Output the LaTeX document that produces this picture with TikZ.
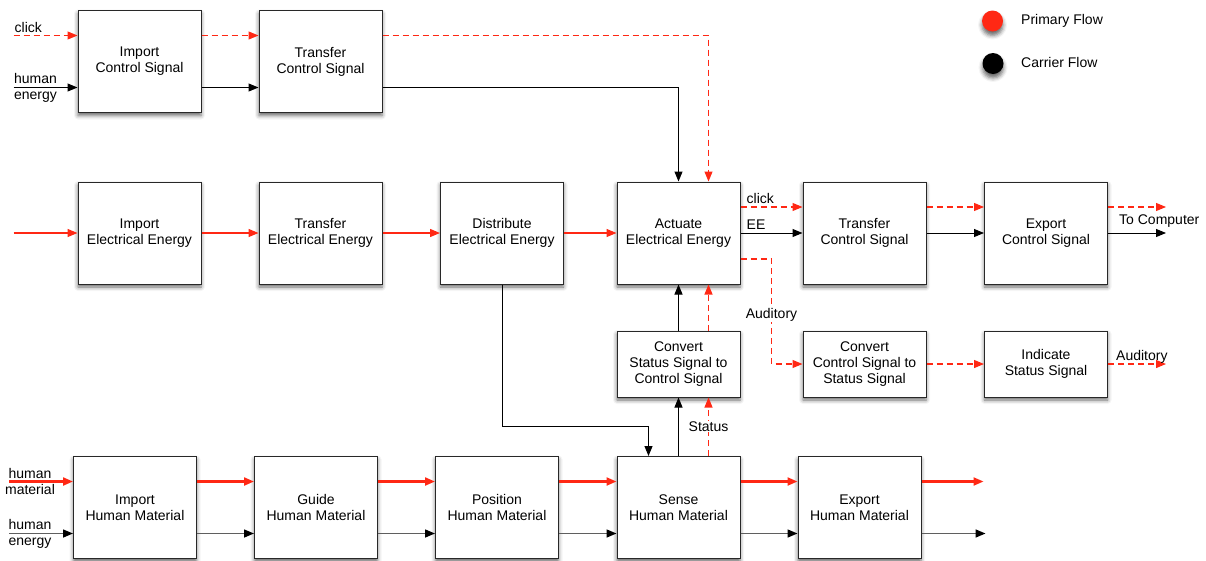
\documentclass[tikz,border=0pt]{standalone}
\usepackage{fontspec}
\setmainfont{Liberation Sans}
\usetikzlibrary{arrows.meta,shadows.blur,calc}
\definecolor{flowred}{RGB}{255,40,20}
\definecolor{flowgray}{RGB}{95,95,95}
\definecolor{boxline}{RGB}{40,40,40}
\begin{document}
\begin{tikzpicture}[x=1pt,y=-1pt,
  txt/.style={font=\fontsize{14}{16}\selectfont},
  fbox/.style={txt, draw=boxline, line width=1pt, fill=white, minimum width=123pt,
    minimum height=102pt, inner sep=0pt, align=center,
    blur shadow={shadow xshift=0pt, shadow yshift=-3pt, shadow blur radius=4pt, shadow opacity=60}},
  sbox/.style={fbox, minimum height=66pt},
  tipr/.style={-{Triangle[length=10pt,width=8pt]}},
  redd/.style={tipr, draw=flowred, line width=1.1pt, dash pattern=on 6pt off 4pt},
  reds/.style={tipr, draw=flowred, line width=1.3pt},
  redt/.style={tipr, draw=flowred, line width=2.1pt},
  blk/.style={tipr, draw=black, line width=1pt},
  gry/.style={-{Triangle[length=10pt,width=8pt,black]}, draw=flowgray, line width=1.5pt},
  lbl/.style={txt, inner sep=1pt},
  dot/.style={circle, minimum size=21pt, inner sep=0pt,
    blur shadow={shadow xshift=0pt, shadow yshift=-4pt, shadow blur radius=4pt, shadow opacity=60}}
]
\useasboundingbox (0,0) rectangle (1206,560);

% ---- boxes ----
\node[fbox] (ics)  at (139.5,61.5) {Import\\Control Signal};
\node[fbox] (tcs1) at (320.5,61.5) {Transfer\\Control Signal};

\node[fbox] (iee)  at (139.5,233) {Import\\Electrical Energy};
\node[fbox] (tee)  at (320.5,233) {Transfer\\Electrical Energy};
\node[fbox] (dee)  at (502,233)   {Distribute\\Electrical Energy};
\node[fbox] (aee)  at (678.5,233) {Actuate\\Electrical Energy};
\node[fbox] (tcs2) at (864.5,233) {Transfer\\Control Signal};
\node[fbox] (ecs)  at (1046,233)  {Export\\Control Signal};

\node[sbox] (cstc) at (678.5,364) {Convert\\Status Signal to\\Control Signal};
\node[sbox] (ctss) at (864.5,364) {Convert\\Control Signal to\\Status Signal};
\node[sbox] (iss)  at (1046,364)  {Indicate\\Status Signal};

\node[fbox] (ihm) at (135,507.5)   {Import\\Human Material};
\node[fbox] (ghm) at (316,507.5)   {Guide\\Human Material};
\node[fbox] (phm) at (497,507.5)   {Position\\Human Material};
\node[fbox] (shm) at (678.5,507.5) {Sense\\Human Material};
\node[fbox] (ehm) at (859.5,507.5) {Export\\Human Material};

% ---- legend ----
\node[dot, fill=flowred] (lp) at (992.5,21) {};
\node[lbl, anchor=west] (lpt) at (1020,21) {Primary Flow};
\node[dot, fill=black] (lc) at (993,63.5) {};
\node[lbl, anchor=west] (lct) at (1020,62.5) {Carrier Flow};

% ---- row 1 ----
\coordinate (c1) at ([xshift=-64pt,yshift=26pt]ics.west);
\coordinate (h1) at ([xshift=-64pt,yshift=-26pt]ics.west);
\draw[redd] (c1) -- ([yshift=26pt]ics.west);
\draw[blk] (h1) -- ([yshift=-26pt]ics.west);
\node[lbl, anchor=base west] (lclick1) at ([yshift=3pt]c1) {click};
\node[lbl, align=center, anchor=center] (lhe1) at ($(h1)+(22,0)$) {human\\energy};
\draw[redd] ([yshift=26pt]ics.east) -- ([yshift=26pt]tcs1.west);
\draw[blk] ([yshift=-26pt]ics.east) -- ([yshift=-26pt]tcs1.west);
\draw[redd] ([yshift=26pt]tcs1.east) -| ([xshift=30pt]aee.north);
\draw[blk] ([yshift=-26pt]tcs1.east) -| (aee.north);

% ---- row 2 ----
\coordinate (e0) at ([xshift=-64pt]iee.west);
\draw[reds] (e0) -- (iee.west);
\draw[reds] (iee.east) -- (tee.west);
\draw[reds] (tee.east) -- (dee.west);
\draw[reds] (dee.east) -- (aee.west);
\draw[redd] ([yshift=26pt]aee.east) -- ([yshift=26pt]tcs2.west);
\draw[blk] (aee.east) -- (tcs2.west);
\node[lbl, anchor=base west] (lclick2) at ([xshift=5pt,yshift=30pt]aee.east) {click};
\node[lbl, anchor=base west] (lee) at ([xshift=5pt,yshift=4pt]aee.east) {EE};
\draw[redd] ([yshift=26pt]tcs2.east) -- ([yshift=26pt]ecs.west);
\draw[blk] (tcs2.east) -- (ecs.west);
\coordinate (outR) at ([xshift=58pt,yshift=26pt]ecs.east);
\coordinate (outB) at ([xshift=58pt]ecs.east);
\draw[redd] ([yshift=26pt]ecs.east) -- (outR);
\draw[blk] (ecs.east) -- (outB);
\node[lbl, anchor=base west] (lcomp) at ([xshift=10pt,yshift=9pt]ecs.east) {To Computer};

% ---- auditory branch ----
\coordinate (audx) at ($(aee.east)!0.5!(tcs2.west)$);
\coordinate (midy) at ($(aee.south)!0.5!(cstc.north)$);
\draw[redd] ([yshift=-26pt]aee.east) -| (audx |- ctss.west) -- (ctss.west);
\node[lbl, fill=white, inner sep=0.5pt] (laud1) at ($(audx |- midy)+(0,7)$) {Auditory};
\draw[redd] (ctss.east) -- (iss.west);
\coordinate (outA) at ([xshift=58pt]iss.east);
\draw[redd] (iss.east) -- (outA);
\node[lbl, anchor=base west] (laud2) at ([xshift=7pt,yshift=4pt]iss.east) {Auditory};

% ---- verticals ----
\draw[blk] (cstc.north) -- (aee.south);
\draw[redd] ([xshift=30pt]cstc.north) -- ([xshift=30pt]aee.south);
\draw[blk] (shm.north) -- (cstc.south);
\draw[redd] ([xshift=30pt]shm.north) -- ([xshift=30pt]cstc.south);
\node[lbl, fill=white, inner sep=0.5pt] (lstat) at ($([xshift=30pt]shm.north)!0.5!([xshift=30pt]cstc.south)$) {Status};
\coordinate (sIn) at ([xshift=-30pt]shm.north);
\coordinate (mid) at ($(cstc.south)!0.5!(shm.north)$);
\draw[blk] (dee.south) |- (sIn |- mid) -- (sIn);

% ---- row 4 ----
\coordinate (m0) at ([xshift=-64pt,yshift=26pt]ihm.west);
\coordinate (g0) at ([xshift=-64pt,yshift=-26pt]ihm.west);
\draw[redt] (m0) -- ([yshift=26pt]ihm.west);
\draw[gry] (g0) -- ([yshift=-26pt]ihm.west);
\node[lbl, align=center] (lhm) at ($(m0)+(21,0)$) {human\\material};
\node[lbl, align=center] (lhe4) at ($(g0)+(21,0)$) {human\\energy};
\foreach \a/\b in {ihm/ghm, ghm/phm, phm/shm, shm/ehm} {
  \draw[redt] ([yshift=26pt]\a.east) -- ([yshift=26pt]\b.west);
  \draw[gry] ([yshift=-26pt]\a.east) -- ([yshift=-26pt]\b.west);
}
\coordinate (oM) at ([xshift=62pt,yshift=26pt]ehm.east);
\coordinate (oG) at ([xshift=64pt,yshift=-26pt]ehm.east);
\draw[redt] ([yshift=26pt]ehm.east) -- (oM);
\draw[gry] ([yshift=-26pt]ehm.east) -- (oG);
\end{tikzpicture}
\end{document}
